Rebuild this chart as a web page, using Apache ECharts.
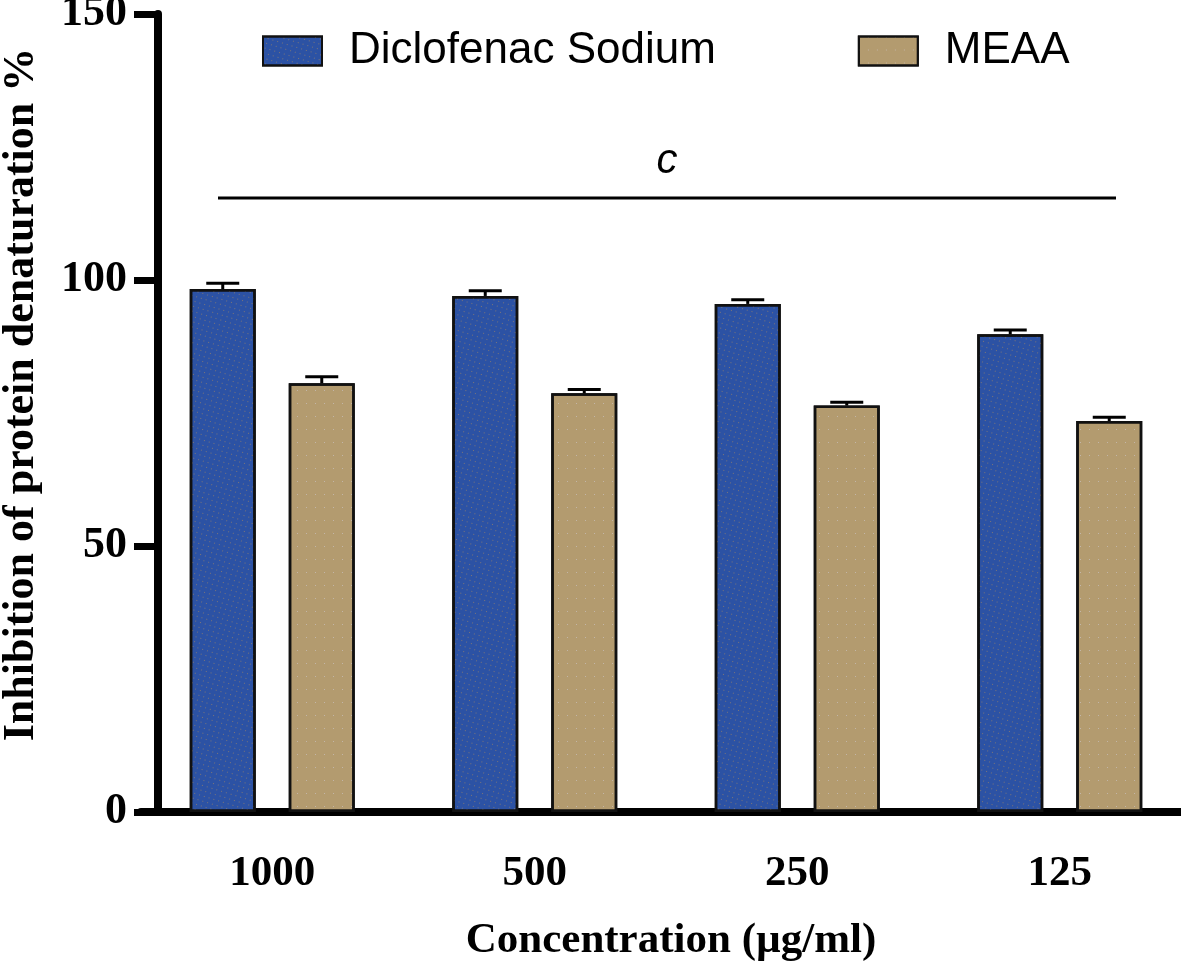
<!DOCTYPE html>
<html>
<head>
<meta charset="utf-8">
<title>Inhibition of protein denaturation</title>
<script src="https://cdn.jsdelivr.net/npm/echarts@6/dist/echarts.min.js"></script>
<style>
  html, body { margin: 0; padding: 0; background: #fff; }
  #chart { width: 1181px; height: 964px; }
</style>
</head>
<body>
<div id="chart"></div>
<script>
// data
const categories = ['1000', '500', '250', '125']
const diclofenac = [98.3, 97.0, 95.5, 89.8]
const diclofenacErr = [1.1, 1.0, 0.8, 0.8]
const meaa = [80.6, 78.7, 76.4, 73.5]
const meaaErr = [1.2, 0.7, 0.6, 0.7]
const yTicks = [0, 50, 100, 150]

const serif = '"Liberation Serif", "Times New Roman", serif'
const sans = '"Liberation Sans", Arial, sans-serif'
const barWidth = 66
const barGapPx = 33

const chart = echarts.init(document.getElementById('chart'))

// error bar (upper whisker only, the lower half sits inside the bar)
function errorSeries(values, errs, side) {
  return {
    type: 'custom',
    z: 5,
    silent: true,
    data: values.map((v, i) => [i, v, v + errs[i]]),
    renderItem: function(params, api) {
      const mid = api.coord([api.value(0), api.value(1)])
      const top = api.coord([api.value(0), api.value(2)])
      const x = mid[0] + side * (barWidth + barGapPx) / 2
      const style = { stroke: '#000', lineWidth: 3 }
      return {
        type: 'group',
        children: [
          { type: 'line', shape: { x1: x, y1: mid[1], x2: x, y2: top[1] }, style: style },
          { type: 'line', shape: { x1: x - 16.5, y1: top[1], x2: x + 16.5, y2: top[1] }, style: style }
        ]
      }
    }
  }
}

chart.setOption({
  animation: false,
  backgroundColor: '#fff',
  grid: {
    left: 141,
    top: 14,
    width: 1050,
    bottom: 152,
    outerBoundsMode: 'none',
    containLabel: false
  },
  legend: {
    data: ['Diclofenac Sodium', 'MEAA'],
    left: 257,
    top: 24,
    icon: 'rect',
    itemWidth: 59,
    itemHeight: 29,
    itemGap: 142,
    textStyle: {
      fontFamily: sans,
      fontSize: 44,
      color: '#000',
      padding: [0, 0, 0, 22]
    }
  },
  xAxis: {
    type: 'category',
    data: categories,
    name: 'Concentration (µg/ml)',
    nameLocation: 'middle',
    nameGap: 107,
    nameTextStyle: {
      fontFamily: serif,
      fontWeight: 'bold',
      fontSize: 43,
      color: '#000',
      padding: [0, 0, 0, 10]
    },
    axisLine: { lineStyle: { color: '#000', width: 8 } },
    axisTick: { alignWithLabel: true, length: 25, lineStyle: { color: '#000', width: 8 } },
    axisLabel: {
      margin: 40,
      fontFamily: serif,
      fontWeight: 'bold',
      fontSize: 43,
      color: '#000'
    }
  },
  yAxis: {
    type: 'value',
    min: 0,
    max: 150,
    interval: 50,
    offset: -17,
    name: 'Inhibition of protein denaturation %',
    nameLocation: 'middle',
    nameGap: 114,
    nameTextStyle: {
      fontFamily: serif,
      fontWeight: 'bold',
      fontSize: 44,
      color: '#000',
      padding: [0, 0, 0, 37]
    },
    splitLine: { show: false },
    axisLine: { show: true, lineStyle: { color: '#000', width: 8 } },
    axisTick: { show: true, length: 24, lineStyle: { color: '#000', width: 7 } },
    axisLabel: {
      margin: 31,
      fontFamily: serif,
      fontWeight: 'bold',
      fontSize: 44,
      color: '#000',
      formatter: v => (yTicks.indexOf(v) >= 0 ? String(v) : '')
    }
  },
  graphic: [
    {
      type: 'line',
      shape: { x1: 218, y1: 198, x2: 1116, y2: 198 },
      style: { stroke: '#000', lineWidth: 3 }
    },
    {
      type: 'text',
      x: 667,
      y: 161,
      style: {
        text: 'c',
        fontFamily: sans,
        fontStyle: 'italic',
        fontSize: 42,
        fill: '#000',
        align: 'center',
        verticalAlign: 'middle'
      }
    }
  ],
  series: [
    {
      name: 'Diclofenac Sodium',
      type: 'bar',
      data: diclofenac,
      barWidth: barWidth,
      barGap: (barGapPx / barWidth * 100) + '%',
      itemStyle: {
        color: '#2C52A4',
        borderColor: '#111',
        borderWidth: 2.5,
        decal: {
          symbol: 'rect',
          symbolSize: 1,
          color: 'rgba(185,145,85,0.55)',
          dashArrayX: [1, 4],
          dashArrayY: [1, 4],
          rotation: 0.3
        }
      }
    },
    {
      name: 'MEAA',
      type: 'bar',
      data: meaa,
      barWidth: barWidth,
      itemStyle: {
        color: '#B39B6F',
        borderColor: '#111',
        borderWidth: 2.5,
        decal: {
          symbol: 'rect',
          symbolSize: 1,
          color: 'rgba(215,215,235,0.45)',
          dashArrayX: [1, 8],
          dashArrayY: [1, 12],
          rotation: 0
        }
      }
    },
    errorSeries(diclofenac, diclofenacErr, -1),
    errorSeries(meaa, meaaErr, 1)
  ]
})
</script>
</body>
</html>
